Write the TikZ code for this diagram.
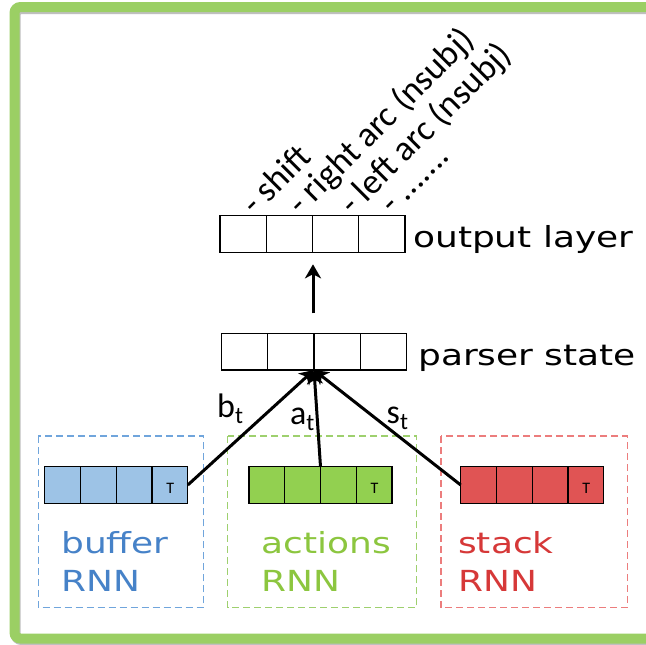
\documentclass[tikz,border=0pt]{standalone}
\usepackage{fontspec}
\setmainfont{Carlito}
\newfontfamily\hand[FakeStretch=1.24]{DejaVu Sans}
\usetikzlibrary{arrows.meta,calc}

\definecolor{framegreen}{RGB}{155,207,100}
\definecolor{bufFill}{RGB}{157,195,230}
\definecolor{actFill}{RGB}{146,208,80}
\definecolor{stkFill}{RGB}{224,84,84}
\definecolor{bufDash}{RGB}{112,165,220}
\definecolor{actDash}{RGB}{158,208,110}
\definecolor{stkDash}{RGB}{236,125,125}
\definecolor{bufText}{RGB}{70,130,200}
\definecolor{actText}{RGB}{140,198,63}
\definecolor{stkText}{RGB}{214,56,56}

% vertical dividers turning a row box into four cells
\newcommand\splitrow[1]{%
  \foreach \k in {1,2,3}{%
    \draw[line width=1.3pt] ($(#1.north west)!\k/4!(#1.north east)$) -- ($(#1.south west)!\k/4!(#1.south east)$);}}

\begin{document}
\begin{tikzpicture}[x=1pt,y=-1pt,
  cellrow/.style={draw=black, line width=1.3pt, minimum width=143pt, minimum height=36.6pt, inner sep=0pt, outer sep=0pt},
  layerrow/.style={cellrow, minimum width=185pt, fill=white},
  handlbl/.style={font=\hand\fontsize{29}{35}\selectfont, anchor=base west, inner sep=0pt},
  actlbl/.style={font=\fontsize{35.5}{40}\selectfont, anchor=base west, rotate=45, inner sep=0pt},
  sublbl/.style={font=\fontsize{34}{40}\selectfont, anchor=base west, inner sep=0pt},
  tlbl/.style={font=\fontsize{16}{18}\selectfont, inner sep=0pt},
  edge/.style={line width=3pt, -{Stealth[length=14pt,width=16pt,inset=4pt]}},
  grp/.style={line width=1.5pt, dash pattern=on 7pt off 4pt}]

\useasboundingbox (0,0) rectangle (646,645);
\clip (0,0) rectangle (646,645);
\fill[white] (0,0) rectangle (646,645);

% outer frame with a soft shadow
\draw[line width=10pt, black!25, rounded corners=6pt] (15.5,9) rectangle (700,640);
\draw[line width=10pt, framegreen, rounded corners=6pt] (14.5,7) rectangle (700,638.5);

% dashed groups around the three RNNs
\draw[grp, draw=bufDash] (38.3,436) rectangle (203.3,607.7);
\draw[grp, draw=actDash] (227.7,436) rectangle (416.7,607.7);
\draw[grp, draw=stkDash] (441,436) rectangle (627.3,607.7);

% output layer and parser state
\node[layerrow] (out) at (312.5,234) {};
\splitrow{out}
\node[layerrow] (ps) at (314,351.7) {};
\splitrow{ps}

% RNN summaries
\node[cellrow, fill=bufFill] (buf) at (116.3,485) {};
\splitrow{buf}
\node[cellrow, fill=actFill] (act) at (320.5,485) {};
\splitrow{act}
\node[cellrow, fill=stkFill] (stk) at (532.2,485) {};
\splitrow{stk}

\node[tlbl] (bufT) at ($(buf.east)+(-17.5,3)$) {T};
\node[tlbl] (actT) at ($(act.east)+(-17.5,3)$) {T};
\node[tlbl] (stkT) at ($(stk.east)+(-17.5,3)$) {T};

% connections
\draw[edge] (buf.east) -- (ps.south);
\draw[edge] (act.north) -- (ps.south);
\draw[edge] (stk.west) -- (ps.south);
\draw[edge, shorten <=20pt, shorten >=12pt] ([xshift=-1pt]ps.north) -- ([xshift=-1pt]ps.north |- out.south);

\node[sublbl] (bt) at (217,417) {b\textsubscript{t}};
\node[sublbl] (at) at (290,424.5) {a\textsubscript{t}};
\node[sublbl] (st) at (386.5,423.5) {s\textsubscript{t}};

% layer names
\node[handlbl] (outlbl) at (413,247) {output layer};
\node[handlbl] (pslbl) at (418,365) {parser state};

\node[handlbl, text=bufText] (buflbl) at (61,553) {buffer};
\node[handlbl, text=bufText] (bufrnn) at (61,591.7) {RNN};
\node[handlbl, text=actText] (actlbl) at (261.7,553) {actions};
\node[handlbl, text=actText] (actrnn) at (261.7,591.7) {RNN};
\node[handlbl, text=stkText] (stklbl) at (458,553) {stack};
\node[handlbl, text=stkText] (stkrnn) at (458,591.7) {RNN};

% transition labels over the output units
\node[actlbl] (a1) at (255,217) {- shift};
\node[actlbl] (a2) at (301.5,216.5) {- right arc (nsubj)};
\node[actlbl] (a3) at (353,216.5) {- left arc (nsubj)};
\node[actlbl] (a4) at (393,215.5) {- .......};
\end{tikzpicture}
\end{document}
